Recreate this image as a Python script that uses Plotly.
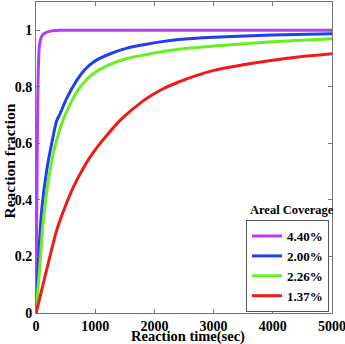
import plotly.graph_objects as go

# reaction time (sec) and reaction fraction
t_purple = [0, 5, 10, 20, 30, 40, 60, 100, 150, 250, 400, 1000, 2000, 3000, 4000, 5000]
y_purple = [0, 0.15, 0.3, 0.55, 0.75, 0.87, 0.95, 0.98, 0.99, 0.997, 1.0, 1.0, 1.0, 1.0, 1.0, 1.0]

t_blue = [0, 30, 96, 181, 270, 350, 407, 520, 689, 830, 972, 1254, 1537, 1819, 2102, 2412, 3000, 4000, 5000]
y_blue = [0, 0.14, 0.363, 0.505, 0.605, 0.68, 0.705, 0.76, 0.823, 0.862, 0.888, 0.917, 0.937, 0.949, 0.959, 0.967, 0.975, 0.983, 0.988]

t_green = [0, 68, 124, 237, 340, 452, 570, 689, 830, 972, 1254, 1537, 1819, 2102, 2412, 3000, 4000, 5000]
y_green = [0, 0.175, 0.328, 0.505, 0.605, 0.68, 0.735, 0.782, 0.82, 0.847, 0.879, 0.90, 0.912, 0.923, 0.933, 0.944, 0.959, 0.970]

t_red = [0, 68, 200, 350, 490, 633, 775, 915, 1060, 1198, 1424, 1820, 2100, 2410, 3000, 3500, 4000, 4500, 5000]
y_red = [0, 0.057, 0.17, 0.293, 0.375, 0.446, 0.503, 0.552, 0.594, 0.629, 0.682, 0.752, 0.788, 0.817, 0.858, 0.878, 0.894, 0.907, 0.917]

series = [
    ("4.40%", t_purple, y_purple, "#B43CF5"),
    ("2.00%", t_blue, y_blue, "#2040F0"),
    ("2.26%", t_green, y_green, "#66F020"),
    ("1.37%", t_red, y_red, "#F51818"),
]

x_ticks = [0, 1000, 2000, 3000, 4000, 5000]
y_ticks = [0, 0.2, 0.4, 0.6, 0.8, 1]
y_ticklabels = ["0", "0.2", "0.4", "0.6", "0.8", "1"]

font = "Liberation Serif"

fig = go.Figure()
for name, t, y, col in series:
    fig.add_trace(go.Scatter(x=t, y=y, mode="lines", name="<b>" + name + "</b>",
                             line=dict(color=col, width=3, shape="spline", smoothing=0.8)))

axis_style = dict(showline=True, linecolor="#777", linewidth=1, mirror="ticks",
                  ticks="inside", ticklen=4, tickcolor="#777", showgrid=False, zeroline=False,
                  ticklabeloverflow="allow",
                  tickfont=dict(family=font, size=14, color="black"))

fig.update_xaxes(range=[0, 5000], tickvals=x_ticks,
                 ticktext=["<b>%d</b>" % v for v in x_ticks], **axis_style)
fig.update_yaxes(range=[0, 1.1], tickvals=y_ticks,
                 ticktext=["<b>%s</b>" % s for s in y_ticklabels], **axis_style)

# axis titles as annotations so they can sit tight against the tick labels
fig.add_annotation(text="<b>Reaction time(sec)</b>", xref="paper", yref="paper", x=0.513, y=-0.076,
                   xanchor="center", yanchor="middle",
                   showarrow=False, font=dict(family=font, size=14.5, color="black"))
fig.add_annotation(text="<b>Reaction fraction</b>", xref="paper", yref="paper", x=-0.088, y=0.49,
                   xanchor="center", yanchor="middle",
                   textangle=-90, showarrow=False, font=dict(family=font, size=15.5, color="black"))
fig.add_annotation(text="<b>Areal Coverage</b>", xref="paper", yref="paper", x=0.865, y=0.33,
                   xanchor="center", yanchor="middle",
                   showarrow=False, font=dict(family=font, size=12.5, color="black"))

fig.update_layout(
    width=345, height=344,
    margin=dict(l=36, r=13, t=2, b=31, autoexpand=False),
    plot_bgcolor="white", paper_bgcolor="white",
    legend=dict(x=0.99, y=0.003, xanchor="right", yanchor="bottom",
                bordercolor="#555", borderwidth=1, bgcolor="white",
                font=dict(family=font, size=13, color="black"),
                tracegroupgap=0, itemwidth=30),
)

# drop the default page margin so the figure sits at the top-left corner
fig.write_html("out.html", config={"displayModeBar": False},
               post_script="document.body.style.margin='0';")
